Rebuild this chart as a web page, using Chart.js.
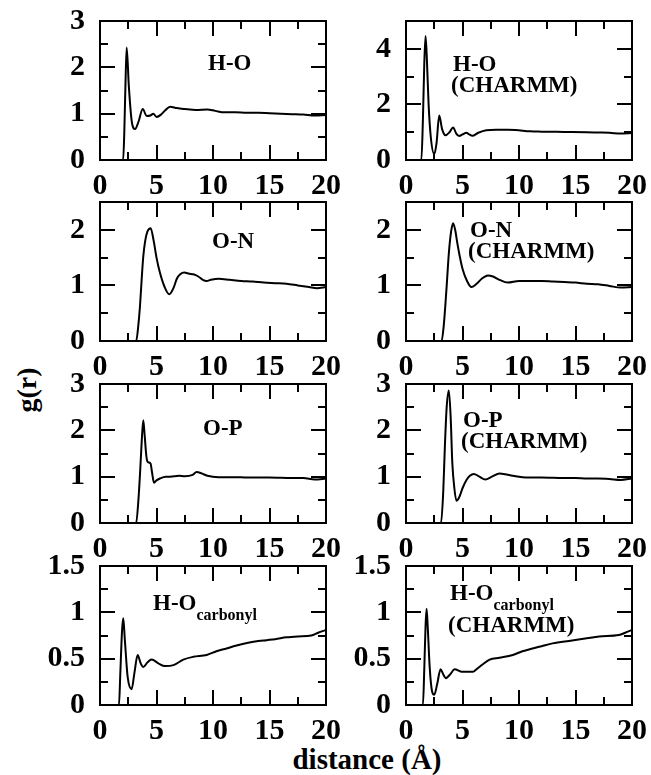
<!DOCTYPE html>
<html>
<head>
<meta charset="utf-8">
<script src="https://cdn.jsdelivr.net/npm/chart.js@4"></script>
<style>
  body { margin: 0; background: #fff; }
  #wrap { position: relative; width: 651px; height: 775px; overflow: hidden; }
  canvas { position: absolute; }
  .lbl { position: absolute; font-family: "Liberation Serif", serif; font-weight: bold; color: #000; white-space: nowrap; }
</style>
</head>
<body>
<div id="wrap">
  <div class="lbl" id="ytitle" style="font-size:28px; left:27px; top:390px; transform: translate(-50%,-50%) rotate(-90deg);">g(r)</div>
  <div class="lbl" id="xtitle" style="font-size:29px; left:367px; top:759px; transform: translate(-50%,-50%);">distance (Å)</div>
</div>
<script>
// g(r) curves, distance in Angstrom
const hoX = [0, 2.05, 2.15, 2.25, 2.36, 2.55, 2.8, 3.1, 3.4, 3.78, 4.13, 4.45, 4.72, 5.0, 5.4, 5.8, 6.2, 6.8, 7.5, 8.5, 9.5, 10.2, 11, 12, 13, 14, 15, 16, 17, 18, 19, 20];
const hoY = [0, 0, 0.6, 1.6, 2.43, 1.6, 0.85, 0.67, 0.82, 1.10, 0.95, 0.96, 1.0, 0.93, 0.98, 1.08, 1.15, 1.12, 1.10, 1.08, 1.09, 1.06, 1.03, 1.03, 1.02, 1.02, 1.01, 1.0, 0.99, 0.98, 0.96, 0.97];

const hoChX = [0, 1.36, 1.5, 1.62, 1.73, 1.85, 2.0, 2.2, 2.5, 2.7, 2.94, 3.2, 3.5, 3.85, 4.17, 4.45, 4.7, 5.0, 5.35, 5.6, 5.87, 6.4, 7.1, 8, 9, 9.7, 11, 12, 14, 16, 17, 18, 19, 20];
const hoChY = [0, 0, 1.5, 3.5, 4.46, 3.6, 2.0, 0.8, 0.21, 0.6, 1.6, 1.1, 0.89, 1.0, 1.17, 0.95, 0.86, 0.92, 0.98, 0.92, 0.87, 0.98, 1.07, 1.09, 1.09, 1.08, 1.03, 1.02, 1.01, 1.0, 0.99, 0.98, 0.95, 0.97];

const onX = [0, 3.2, 3.4, 3.54, 3.7, 3.83, 4.0, 4.2, 4.48, 4.75, 5.0, 5.3, 5.7, 6.13, 6.5, 6.8, 7.1, 7.46, 7.9, 8.26, 8.7, 9.1, 9.44, 9.8, 10.5, 11.5, 12.5, 13.5, 14.5, 15.5, 16.5, 17.5, 18.5, 19.2, 20];
const onY = [0, 0, 0.3, 0.63, 1.15, 1.52, 1.8, 1.97, 2.03, 1.8, 1.5, 1.23, 0.98, 0.84, 0.95, 1.12, 1.2, 1.23, 1.21, 1.2, 1.16, 1.1, 1.08, 1.1, 1.12, 1.1, 1.08, 1.07, 1.05, 1.04, 1.03, 1.0, 0.97, 0.95, 0.97];

const onChX = [0, 3.15, 3.35, 3.58, 3.8, 4.0, 4.17, 4.35, 4.55, 4.76, 5.0, 5.4, 5.79, 6.2, 6.7, 7.25, 7.7, 8.28, 9.0, 10, 11, 12, 13, 14, 15, 16, 17, 18, 19, 20];
const onChY = [0, 0, 0.3, 0.93, 1.6, 1.98, 2.12, 2.0, 1.75, 1.52, 1.3, 1.08, 0.97, 1.02, 1.12, 1.18, 1.16, 1.1, 1.05, 1.08, 1.08, 1.08, 1.07, 1.06, 1.05, 1.03, 1.02, 0.99, 0.96, 0.97];

const opX = [0, 3.2, 3.4, 3.55, 3.7, 3.83, 3.95, 4.1, 4.22, 4.48, 4.6, 4.78, 5.0, 5.3, 5.8, 6.2, 7, 7.5, 8.2, 8.55, 9, 9.5, 10.5, 12, 13, 15, 17, 18, 19, 20];
const opY = [0, 0, 0.5, 1.1, 1.8, 2.22, 1.9, 1.45, 1.32, 1.28, 1.1, 0.87, 0.92, 0.96, 1.0, 1.0, 1.02, 1.01, 1.04, 1.1, 1.07, 1.02, 0.99, 0.99, 0.98, 0.98, 0.97, 0.97, 0.94, 0.96];

const opChX = [0, 3.1, 3.3, 3.44, 3.6, 3.79, 3.95, 4.1, 4.28, 4.46, 4.7, 5.0, 5.35, 5.65, 6.0, 6.5, 7.02, 7.6, 8.28, 9, 10, 11, 12, 14, 15, 16, 17, 18, 19, 20];
const opChY = [0, 0, 0.7, 1.65, 2.5, 2.86, 2.3, 1.29, 0.75, 0.48, 0.55, 0.75, 0.93, 1.02, 1.06, 1.0, 0.94, 1.0, 1.07, 1.04, 1.0, 0.98, 0.98, 0.97, 0.97, 0.96, 0.96, 0.95, 0.93, 0.96];

const hocX = [0, 1.68, 1.8, 1.95, 2.06, 2.2, 2.45, 2.8, 3.05, 3.33, 3.6, 3.83, 4.2, 4.57, 5.16, 5.75, 6.5, 7.37, 8.26, 9.44, 10.3, 11.2, 12, 13, 14, 14.75, 15.5, 16.5, 17.5, 18.7, 19.3, 20];
const hocY = [0, 0, 0.35, 0.8, 0.935, 0.7, 0.3, 0.17, 0.35, 0.54, 0.45, 0.41, 0.46, 0.49, 0.45, 0.42, 0.43, 0.49, 0.52, 0.54, 0.58, 0.61, 0.64, 0.67, 0.69, 0.70, 0.71, 0.73, 0.74, 0.75, 0.78, 0.81];

const hocChX = [0, 1.5, 1.62, 1.73, 1.82, 1.92, 2.1, 2.3, 2.5, 2.75, 3.06, 3.3, 3.52, 3.9, 4.31, 4.9, 5.4, 5.93, 6.23, 6.8, 7.4, 8.28, 9.45, 10.3, 11.2, 12, 12.97, 14.7, 16, 17.1, 18.85, 19.4, 20];
const hocChY = [0, 0, 0.4, 0.85, 1.04, 0.85, 0.4, 0.15, 0.11, 0.22, 0.385, 0.33, 0.29, 0.33, 0.385, 0.36, 0.36, 0.36, 0.385, 0.44, 0.49, 0.51, 0.54, 0.58, 0.61, 0.635, 0.665, 0.695, 0.72, 0.74, 0.755, 0.78, 0.81];

// axis ranges per panel (row by row, left then right)
const yMax   = [3, 5, 2.5, 2.5, 3, 3, 1.5, 1.5];
const yMajor = [1, 2, 1, 1, 1, 1, 0.5, 0.5];
const yMinor = [0.5, 1, 0.5, 0.5, 0.5, 0.5, 0.25, 0.25];
const xMax = 20, xMajor = 5, xMinor = 2.5;

// panel labels: [main, subscript, second line]
const labels = [
  ["H-O", "", ""], ["H-O", "", "(CHARMM)"],
  ["O-N", "", ""], ["O-N", "", "(CHARMM)"],
  ["O-P", "", ""], ["O-P", "", "(CHARMM)"],
  ["H-O", "carbonyl", ""], ["H-O", "carbonyl", "(CHARMM)"]
];
// label offsets from the plot's top-left corner
const labelPos = [[108, 49], [47, 50], [112, 46], [64, 35], [103, 51], [57, 43], [53, 44], [44, 34]];

const series = [[hoX, hoY], [hoChX, hoChY], [onX, onY], [onChX, onChY], [opX, opY], [opChX, opChY], [hocX, hocY], [hocChX, hocChY]];

const plotTops = [21, 202, 384, 566];
const serif = '"Liberation Serif", "Times New Roman", serif';

function isMajor(v, step) {
  const r = v / step;
  return Math.abs(r - Math.round(r)) < 1e-6;
}

const framePlugin = {
  id: 'frame',
  afterDatasetsDraw(chart, args, opts) {
    const ctx = chart.ctx;
    const a = chart.chartArea;
    ctx.save();
    ctx.strokeStyle = '#000';
    ctx.lineWidth = 2;
    ctx.strokeRect(a.left, a.top, a.right - a.left, a.bottom - a.top);
    const xs = chart.scales.x, ys = chart.scales.y;
    ctx.beginPath();
    for (let v = 0; v <= xMax + 1e-9; v += xMinor) {
      const len = isMajor(v, xMajor) ? 15 : 8;
      const px = Math.round(xs.getPixelForValue(v));
      ctx.moveTo(px, a.bottom); ctx.lineTo(px, a.bottom - len);
      ctx.moveTo(px, a.top); ctx.lineTo(px, a.top + len);
    }
    for (let v = 0; v <= opts.yMax + 1e-9; v += opts.yMinor) {
      const len = isMajor(v, opts.yMajor) ? 15 : 8;
      const py = Math.round(ys.getPixelForValue(v));
      ctx.moveTo(a.left, py); ctx.lineTo(a.left + len, py);
      ctx.moveTo(a.right, py); ctx.lineTo(a.right - len, py);
    }
    ctx.stroke();

    // panel label
    const lab = opts.label, pos = opts.pos;
    ctx.fillStyle = '#000';
    ctx.textBaseline = 'alphabetic';
    ctx.textAlign = 'left';
    ctx.font = 'bold 23px ' + serif;
    const x0 = a.left + pos[0], y0 = a.top + pos[1];
    ctx.fillText(lab[0], x0, y0);
    if (lab[1]) {
      const w = ctx.measureText(lab[0]).width;
      ctx.font = 'bold 16px ' + serif;
      ctx.fillText(lab[1], x0 + w, y0 + 10);
      ctx.font = 'bold 23px ' + serif;
    }
    if (lab[2]) {
      ctx.fillText(lab[2], x0 - 2, y0 + 21 + (lab[1] ? 11 : 0));
    }
    ctx.restore();
  }
};

const wrap = document.getElementById('wrap');

series.forEach((s, i) => {
  const col = i % 2, row = Math.floor(i / 2);
  const cv = document.createElement('canvas');
  cv.width = 345; cv.height = 191;
  cv.style.left = (col === 0 ? 0 : 306) + 'px';
  cv.style.top = (plotTops[row] - 16) + 'px';
  wrap.appendChild(cv);

  const pts = s[0].map((x, k) => ({ x: x, y: s[1][k] }));

  new Chart(cv, {
    type: 'line',
    data: {
      datasets: [{
        data: pts,
        borderColor: '#000',
        borderWidth: 2,
        pointRadius: 0,
        cubicInterpolationMode: 'monotone',
        fill: false
      }]
    },
    options: {
      responsive: false,
      animation: false,
      devicePixelRatio: 1,
      layout: { padding: { top: 16, right: 19, left: 0, bottom: 0 } },
      plugins: {
        legend: { display: false },
        tooltip: { enabled: false },
        frame: { yMax: yMax[i], yMajor: yMajor[i], yMinor: yMinor[i], label: labels[i], pos: labelPos[i] }
      },
      scales: {
        x: {
          type: 'linear',
          min: 0, max: xMax,
          grid: { display: false },
          border: { display: false },
          ticks: {
            stepSize: xMinor,
            autoSkip: false,
            maxRotation: 0,
            padding: 3,
            color: '#000',
            font: { family: serif, size: 30, weight: 'bold', lineHeight: 1.0 },
            callback: (v) => isMajor(v, xMajor) ? String(v) : ''
          },
          afterFit: (scale) => { scale.height = 36; scale.paddingLeft = 0; scale.paddingRight = 0; }
        },
        y: {
          min: 0, max: yMax[i],
          grid: { display: false },
          border: { display: false },
          ticks: {
            stepSize: yMinor[i],
            autoSkip: false,
            padding: 7,
            color: '#000',
            font: { family: serif, size: 30, weight: 'bold', lineHeight: 1.0 },
            callback: (v) => isMajor(v, yMajor[i]) ? String(Math.round(v * 100) / 100) : ''
          },
          afterFit: (scale) => { scale.width = 100; scale.paddingTop = 0; scale.paddingBottom = 0; }
        }
      }
    },
    plugins: [framePlugin]
  });
});
</script>
</body>
</html>
